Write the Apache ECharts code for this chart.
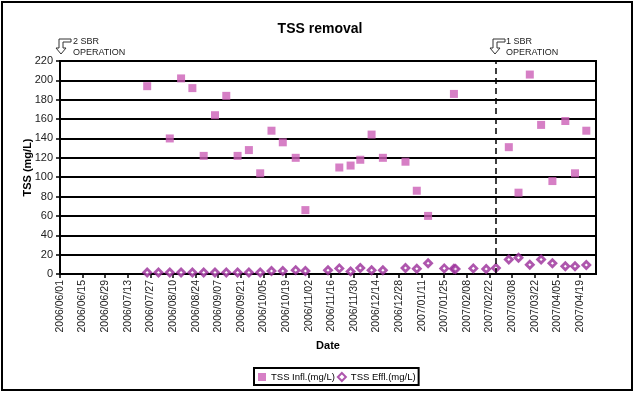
<!DOCTYPE html>
<html>
<head>
<meta charset="utf-8">
<script src="https://cdn.jsdelivr.net/npm/echarts@6/dist/echarts.min.js"></script>
<style>html,body{margin:0;padding:0;background:#fff}#c{width:640px;height:393px}</style>
</head>
<body>
<div id="c"></div>
<script>
// ---- data ----
var startDate = '2006/06/01';
var endDate = '2007/04/29';
var tickStepDays = 14;
var inflDates = ['2006/07/25','2006/08/08','2006/08/15','2006/08/22','2006/08/29','2006/09/05','2006/09/12','2006/09/19','2006/09/26','2006/10/03','2006/10/10','2006/10/17','2006/10/25','2006/10/31',
  '2006/11/21','2006/11/28','2006/12/04','2006/12/11','2006/12/18','2007/01/01','2007/01/08','2007/01/15','2007/01/31',
  '2007/03/06','2007/03/12','2007/03/19','2007/03/26','2007/04/02','2007/04/10','2007/04/16','2007/04/23'];
var inflValues = [194,140,202,192,122,164,184,122,128,104,148,136,120,66,
  110,112,118,144,120,116,86,60,186,
  131,84,206,154,96,158,104,148];
var efflDates = ['2006/07/25','2006/08/01','2006/08/08','2006/08/15','2006/08/22','2006/08/29','2006/09/05','2006/09/12','2006/09/19','2006/09/26','2006/10/03','2006/10/10','2006/10/17','2006/10/25','2006/10/31',
  '2006/11/14','2006/11/21','2006/11/28','2006/12/04','2006/12/11','2006/12/18','2007/01/01','2007/01/08','2007/01/15','2007/01/25','2007/01/31','2007/02/01','2007/02/12','2007/02/20','2007/02/26',
  '2007/03/06','2007/03/12','2007/03/19','2007/03/26','2007/04/02','2007/04/10','2007/04/16','2007/04/23'];
var efflValues = [1.5,1.5,1.5,1.5,1.5,1.5,1.5,1.5,1.5,1.5,1.5,3,3,4,3,
  3.8,5.8,2.7,6.1,3.8,3.8,6.1,5.5,11,5.8,5.5,5.1,5.8,5.1,6.1,
  15,16.8,9.6,15,11,7.9,7.9,9.2];
var sbrChangeDate = '2007/02/26';
var seriesNames = ['TSS Infl.(mg/L)','TSS Effl.(mg/L)'];
var annotations = ['2 SBR\nOPERATION','1 SBR\nOPERATION'];

// ---- helpers ----
function toUTC(s){var p=s.split('/');return Date.UTC(+p[0],+p[1]-1,+p[2]);}
var DAY = 86400000;
var t0 = toUTC(startDate);
function dayOf(s){return Math.round((toUTC(s)-t0)/DAY);}
function fmtDay(d){var dt=new Date(t0+d*DAY);var m=dt.getUTCMonth()+1,dd=dt.getUTCDate();
  return dt.getUTCFullYear()+'/'+(m<10?'0':'')+m+'/'+(dd<10?'0':'')+dd;}
var maxDay = dayOf(endDate);

var chart = echarts.init(document.getElementById('c'));
var font = 'Liberation Sans, Arial, sans-serif';
function arrowPts(x,y){
  return [[x+3,y],[x+15,y],[x+15,y+3],[x+7,y+3],[x+7,y+9],[x+10,y+9],[x+5,y+15],[x,y+9],[x+3,y+9]];
}
chart.setOption({
  animation:false,
  backgroundColor:'#fff',
  title:{text:'TSS removal',left:'center',top:17,textStyle:{fontFamily:font,fontSize:14,fontWeight:'bold',color:'#000'}},
  grid:{left:60,right:44,top:61,bottom:119,show:true,borderColor:'#000',borderWidth:2,backgroundColor:'transparent'},
  legend:{left:254,top:368,orient:'horizontal',borderColor:'#000',borderWidth:2,padding:[4,3,3,4],itemGap:2,itemWidth:8,itemHeight:8,
    textStyle:{fontFamily:font,fontSize:9.5,color:'#000'},
    data:[{name:seriesNames[0],icon:'rect'},{name:seriesNames[1],icon:'diamond'}]},
  xAxis:{type:'value',min:0,max:maxDay,interval:tickStepDays,
    name:'Date',nameLocation:'middle',nameGap:66,nameTextStyle:{fontFamily:font,fontSize:11,fontWeight:'bold',color:'#000'},
    axisLine:{lineStyle:{color:'#000',width:2}},
    axisTick:{show:true,length:4,lineStyle:{color:'#000',width:1.5}},
    splitLine:{show:false},
    axisLabel:{rotate:90,fontFamily:font,fontSize:10.5,color:'#222',margin:6,showMaxLabel:false,
      formatter:function(v){return (v%tickStepDays===0)?fmtDay(v):'';}}},
  yAxis:{type:'value',min:0,max:220,interval:20,
    name:'TSS (mg/L)',nameLocation:'middle',nameGap:27,nameMoveOverlap:false,nameTextStyle:{fontFamily:font,fontSize:11,fontWeight:'bold',color:'#000'},
    axisLine:{show:true,lineStyle:{color:'#000',width:2}},
    axisTick:{show:true,length:4,lineStyle:{color:'#000',width:1.5}},
    splitLine:{show:true,lineStyle:{color:'#000',width:2}},
    axisLabel:{fontFamily:font,fontSize:11,color:'#222',margin:7}},
  series:[
    {name:seriesNames[0],type:'scatter',symbol:'rect',symbolSize:8,
      itemStyle:{color:'#CC5FB7'},
      data:inflDates.map(function(d,i){return [dayOf(d),inflValues[i]];}),
      markLine:{silent:true,symbol:['none','none'],label:{show:false},
        lineStyle:{color:'#000',type:[6,4],width:1.5},
        data:[{xAxis:dayOf(sbrChangeDate)}]}},
    {name:seriesNames[1],type:'scatter',symbol:'diamond',symbolSize:7,
      itemStyle:{color:'#fff',borderColor:'#9A2C98',borderWidth:2.8},
      data:efflDates.map(function(d,i){return [dayOf(d),efflValues[i]];})}
  ],
  graphic:[
    {type:'rect',shape:{x:2,y:2,width:630,height:388},style:{fill:'none',stroke:'#000',lineWidth:2},z:0,silent:true},
    {type:'polygon',shape:{points:arrowPts(56,39)},style:{fill:'#fff',stroke:'#333',lineWidth:1},z:10},
    {type:'text',left:73,top:36,style:{text:annotations[0],font:'9px '+font,fill:'#222',lineHeight:11},z:10},
    {type:'polygon',shape:{points:arrowPts(490,39)},style:{fill:'#fff',stroke:'#333',lineWidth:1},z:10},
    {type:'text',left:506,top:36,style:{text:annotations[1],font:'9px '+font,fill:'#222',lineHeight:11},z:10}
  ]
});
</script>
</body>
</html>
